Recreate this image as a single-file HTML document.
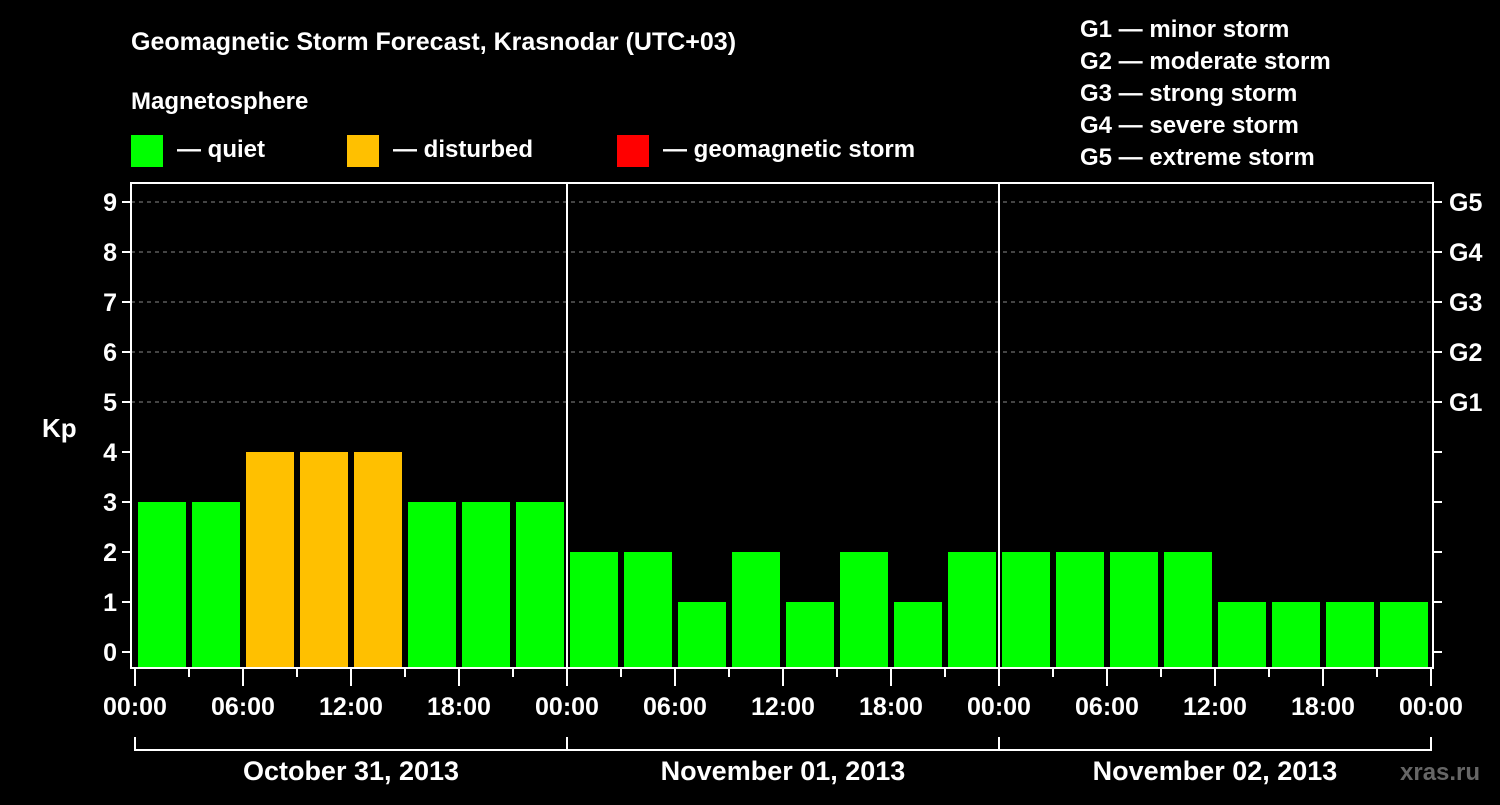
<!DOCTYPE html>
<html><head><meta charset="utf-8"><style>
body{margin:0;background:#000;width:1500px;height:800px;overflow:hidden}
svg text{font-family:"Liberation Sans",Arial,sans-serif;font-weight:bold;fill:#fff}
</style></head><body>
<svg id="c" width="1500" height="800">
<text x="131" y="50" font-size="25">Geomagnetic Storm Forecast, Krasnodar (UTC+03)</text>
<text x="131" y="109" font-size="24">Magnetosphere</text>
<rect x="131" y="135" width="32" height="32" fill="#00ff00"/>
<text x="177" y="157" font-size="24">— quiet</text>
<rect x="347" y="135" width="32" height="32" fill="#ffc000"/>
<text x="393" y="157" font-size="24">— disturbed</text>
<rect x="617" y="135" width="32" height="32" fill="#ff0000"/>
<text x="663" y="157" font-size="24">— geomagnetic storm</text>
<g font-size="24">
<text x="1080" y="37">G1 — minor storm</text>
<text x="1080" y="69">G2 — moderate storm</text>
<text x="1080" y="101">G3 — strong storm</text>
<text x="1080" y="133">G4 — severe storm</text>
<text x="1080" y="165">G5 — extreme storm</text>
</g>
<text x="42" y="437" font-size="26">Kp</text>
<text x="1400" y="780" font-size="24" style="fill:#666">xras.ru</text>
<g id="plot"></g>
</svg>
<script>
const values=[3,3,4,4,4,3,3,3, 2,2,1,2,1,2,1,2, 2,2,2,2,1,1,1,1];
const yTicks=[0,1,2,3,4,5,6,7,8,9];
const gLabels=["G1","G2","G3","G4","G5"];
const gLevels=[5,6,7,8,9];
const xTickLabels=["00:00","06:00","12:00","18:00","00:00","06:00","12:00","18:00","00:00","06:00","12:00","18:00","00:00"];
const days=["October 31, 2013","November 01, 2013","November 02, 2013"];

const X0=135,SLOT=54,Y0=652,PER=50,TOP=183,BOT=668,LEFT=131,RIGHT=1433;
const xs=i=>X0+i*SLOT;
const ys=v=>Y0-v*PER;
const g=document.getElementById('plot');
const NS="http://www.w3.org/2000/svg";
function mk(t,a){const e=document.createElementNS(NS,t);for(const k in a)e.setAttribute(k,a[k]);g.appendChild(e);return e;}
// gridlines
gLevels.forEach(v=>{const e=mk('line',{x1:LEFT,x2:RIGHT,y1:ys(v),y2:ys(v),stroke:'#888','stroke-dasharray':'4,4','stroke-width':1});

});
// bars
values.forEach((v,i)=>{const c=v>=5?'#ff0000':(v>=4?'#ffc000':'#00ff00');
const e=mk('rect',{x:xs(i)+3,y:ys(v),width:48,height:BOT-1-ys(v),fill:c});

});
// frame
const fr=mk('rect',{x:LEFT,y:TOP,width:RIGHT-LEFT,height:BOT-TOP,fill:'none',stroke:'#fff','stroke-width':2});


[1,2].forEach(d=>{const e=mk('line',{x1:xs(d*8),x2:xs(d*8),y1:TOP,y2:BOT,stroke:'#fff','stroke-width':2});

});
// y ticks
yTicks.forEach(v=>{mk('line',{x1:LEFT-9,x2:LEFT,y1:ys(v),y2:ys(v),stroke:'#fff','stroke-width':2});
mk('line',{x1:RIGHT,x2:RIGHT+9,y1:ys(v),y2:ys(v),stroke:'#fff','stroke-width':2});
const t=mk('text',{x:LEFT-14,y:ys(v)+9,'font-size':25,'text-anchor':'end'});t.textContent=v;

});
gLevels.forEach((v,i)=>{const t=mk('text',{x:1449,y:ys(v)+9,'font-size':25});t.textContent=gLabels[i];

});
// x ticks
for(let i=0;i<=24;i++){const major=i%2===0;
mk('line',{x1:xs(i),x2:xs(i),y1:BOT,y2:BOT+(major?18:9),stroke:'#fff','stroke-width':2});}
xTickLabels.forEach((s,i)=>{const t=mk('text',{x:xs(i*2),y:715,'font-size':25,'text-anchor':'middle'});t.textContent=s;

});
// day brackets
mk('line',{x1:xs(0),x2:xs(24),y1:750,y2:750,stroke:'#fff','stroke-width':2});
for(let d=0;d<=3;d++)mk('line',{x1:xs(d*8),x2:xs(d*8),y1:737,y2:751,stroke:'#fff','stroke-width':2});
days.forEach((s,d)=>{const t=mk('text',{x:xs(d*8+4),y:780,'font-size':27,'text-anchor':'middle'});t.textContent=s;

});
</script>
</body></html>
